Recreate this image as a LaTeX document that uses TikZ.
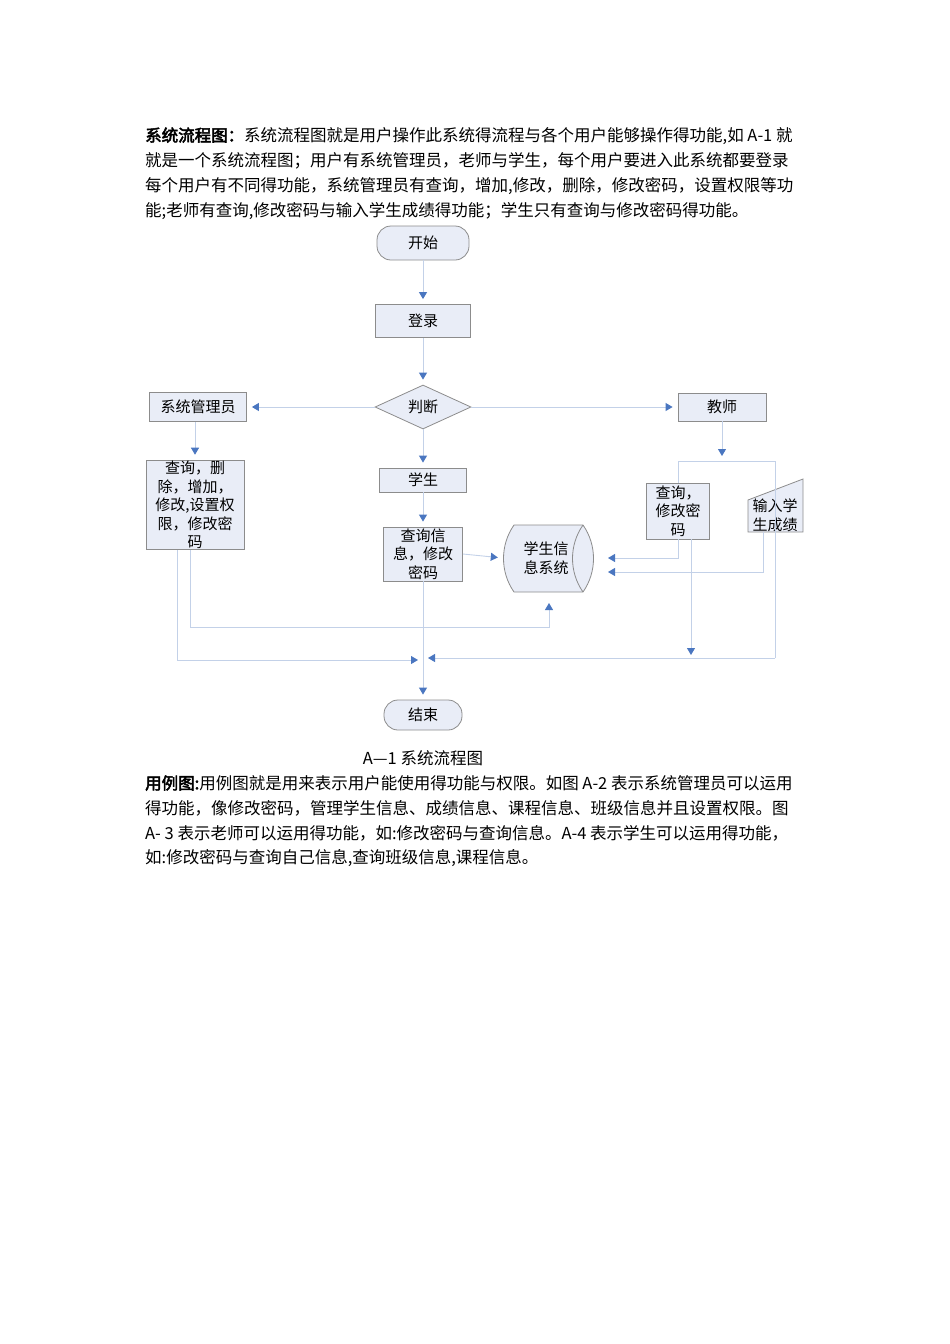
\documentclass[tikz,border=0pt]{standalone}
\usepackage{fontspec}
\setmainfont{Noto Sans CJK SC}[AutoFakeBold=3]
\usetikzlibrary{arrows.meta,shapes.geometric}
\definecolor{boxf}{HTML}{E9EDF7}
\definecolor{boxd}{HTML}{8C8C8C}
\definecolor{linec}{HTML}{C3D1E8}
\definecolor{arrc}{HTML}{4A76C0}
\tikzset{
 x=1pt,y=-1pt,
 txt/.style={anchor=west,inner sep=0,font=\fontsize{16.5}{18}\selectfont},
 box/.style={draw=boxd,fill=boxf,line width=0.8,inner sep=1,align=center,font=\fontsize{15}{18.5}\selectfont},
 conn/.style={draw=linec,line width=0.9,-{Triangle[length=7,width=8,color=arrc]},shorten >=5},
 ln/.style={draw=linec,line width=0.9},
}
\begin{document}
\begin{tikzpicture}
\useasboundingbox (0,0) rectangle (950,1344);
\node[txt] (p1) at (145,136) {\textbf{系统流程图：}系统流程图就是用户操作此系统得流程与各个用户能够操作得功能,如 A-1 就};
\node[txt] (p2) at (145,161) {就是一个系统流程图；用户有系统管理员，老师与学生，每个用户要进入此系统都要登录};
\node[txt] (p3) at (145,186) {每个用户有不同得功能，系统管理员有查询，增加,修改，删除，修改密码，设置权限等功};
\node[txt] (p4) at (145,211) {能;老师有查询,修改密码与输入学生成绩得功能；学生只有查询与修改密码得功能。};
\node[txt,anchor=center] (cap) at (423,758) {A—1 系统流程图};
\node[txt] (q1) at (145,783) {\textbf{用例图:}用例图就是用来表示用户能使用得功能与权限。如图 A-2 表示系统管理员可以运用};
\node[txt] (q2) at (145,808) {得功能，像修改密码，管理学生信息、成绩信息、课程信息、班级信息并且设置权限。图};
\node[txt] (q3) at (145,833) {A- 3 表示老师可以运用得功能，如:修改密码与查询信息。A-4 表示学生可以运用得功能，};
\node[txt] (q4) at (145,858) {如:修改密码与查询自己信息,查询班级信息,课程信息。};

\node[box,rounded corners=14,minimum width=92,minimum height=34] (start) at (423,243) {开始};
\node[box,minimum width=95,minimum height=33] (login) at (423,321) {登录};
\node[box,diamond,aspect=2.2,minimum width=96,minimum height=44,inner sep=0] (judge) at (423,407) {判断};
\node[box,minimum width=97,minimum height=29] (admin) at (198,407) {系统管理员};
\node[box,minimum width=88,minimum height=28] (teacher) at (722,407) {教师};
\node[box,minimum width=98,minimum height=89] (adminops) at (195,505) {查询，删\\除，增加，\\修改,设置权\\限，修改密\\码};
\node[box,minimum width=87,minimum height=24] (student) at (423,480) {学生};
\node[box,minimum width=79,minimum height=54] (studops) at (423,554) {查询信\\息，修改\\密码};
\node[box,minimum width=63,minimum height=56] (tops) at (678,511) {查询，\\修改密\\码};
\draw[draw=boxd,fill=boxf,line width=0.8] (514,525) .. controls (500,545) and (500,572) .. (514,592) -- (583,592) .. controls (597,572) and (597,545) .. (583,525) -- cycle;
\draw[draw=boxd,line width=0.8] (583,525) .. controls (569,545) and (569,572) .. (583,592);
\node[inner sep=0,minimum width=86,minimum height=67,align=center,font=\fontsize{15}{19}\selectfont] (db) at (546,558) {学生信\\息系统};
\draw[draw=boxd,fill=boxf,line width=0.8] (748,500) -- (803,479) -- (803,532) -- (748,532) -- cycle;
\node[inner sep=0,align=center,font=\fontsize{15}{19}\selectfont] (input) at (775,515) {输入学\\生成绩};
\node[box,rounded corners=14,minimum width=78,minimum height=30] (end) at (423,715) {结束};

\draw[conn] (start) -- (login);
\draw[conn] (login) -- (judge);
\draw[conn] (judge) -- (admin);
\draw[conn] (judge) -- (teacher);
\draw[conn] (judge) -- (student);
\draw[conn] (student) -- (studops);
\draw[conn] (admin.south -| adminops) -- (adminops);
\draw[conn] (teacher.south) -- (722,461);
\draw[ln] (678,483) -- (678,461) -- (775,461) -- (775,658);
\draw[conn] (775,658) -- (423,658);
\draw[conn] (tops.south) |- (603,558);
\draw[conn] (691,539) -- (691,660);
\draw[conn] (763,532) |- (603,572);
\draw[conn] (studops.east) -- (db.west);
\draw[conn] (190,550) |- (549,627) -- (549,598);
\draw[conn] (177,550) |- (423,660);
\draw[conn] (studops.south) -- (end.north);
\end{tikzpicture}
\end{document}
